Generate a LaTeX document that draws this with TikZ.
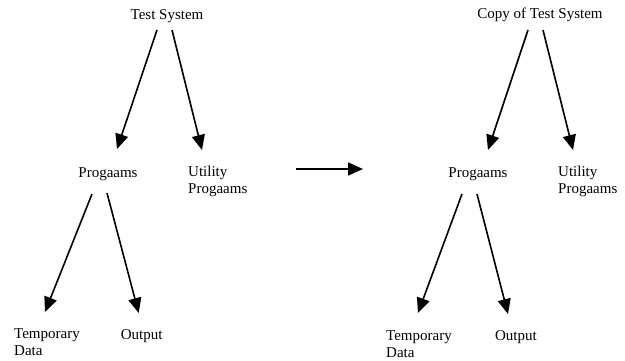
\documentclass[tikz,border=0pt]{standalone}
\usepackage{fontspec}
\setmainfont{Liberation Serif}
\usepackage{tikz}
\usetikzlibrary{arrows.meta,calc,positioning}
\tikzstyle{part}=[inner sep=0pt,font=\fontsize{15}{16.5}\selectfont,align=left]
\tikzstyle{link}=[draw,line width=1.6pt,-{Triangle[length=15pt,width=13pt]}]

\begin{document}
\begin{tikzpicture}[x=1pt,y=-1pt]
\useasboundingbox (0,0) rectangle (625,360);

% First we draw the parts of the system and of its copy
\foreach \pos / \name / \txt in {{(167,19)/ts/Test System},{(108,177)/prog/Progaams},{(141.7,339)/out/Output},
  {(540,18)/cts/Copy of Test System},{(478,177)/cprog/Progaams},{(516,340)/cout/Output}}
\node[part,anchor=base] (\name) at \pos {\txt};

% two-line parts sit on the baseline of their last line
\foreach \pos / \name / \txt in {{(188,193)/util/Utility\\Progaams},{(14,355)/temp/Temporary\\Data},
  {(558,193)/cutil/Utility\\Progaams},{(386,357)/ctemp/Temporary\\Data}}
\node[part,anchor=base west] (\name) at \pos {\txt};

% Connect the parts with arrows
\foreach \source / \sa / \dest / \da in {{ts.base}/{-10,11}/{prog.base}/{9,-28},{ts.base}/{5,11}/{util.base west}/{14,-43},
  {prog.base}/{-16,17}/{temp.base west}/{31,-43},{prog.base}/{-1,16}/{out.base}/{-3,-26},
  {cts.base}/{-12,12}/{cprog.base}/{10,-27},{cts.base}/{3,12}/{cutil.base west}/{15,-43},
  {cprog.base}/{-16,17}/{ctemp.base west}/{32,-44},{cprog.base}/{-1,17}/{cout.base}/{-8,-26}}
\path[link] ($(\source)+(\sa)$) -- ($(\dest)+(\da)$);

% the copy step
\coordinate (go) at (296,169);
\coordinate (done) at (363,169);
\path[link] (go) -- (done);

\end{tikzpicture}
\end{document}
